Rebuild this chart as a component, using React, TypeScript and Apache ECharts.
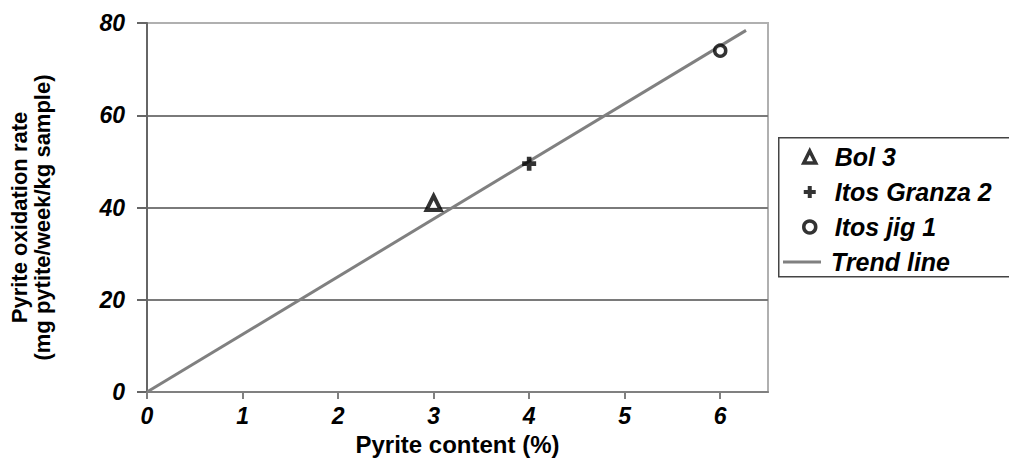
import React, { useEffect, useRef } from "react";
import * as echarts from "echarts";

const xTicks = [0, 1, 2, 3, 4, 5, 6];
const yTicks = [0, 20, 40, 60, 80];
const bol3 = [[3, 41]];
const itosGranza2 = [[4, 49.5]];
const itosJig1 = [[6, 74]];
const trendLine = [[0, 0], [6.27, 78.4]];
const markerNames = ["Bol 3", "Itos Granza 2", "Itos jig 1"];
const lineNames = ["Trend line"];

const FONT = "'Liberation Sans', Arial, sans-serif";
const PLUS = "path://M4,0 H8 V4 H12 V8 H8 V12 H4 V8 H0 V4 H4 Z";
const legendText = {
  fontFamily: FONT,
  fontSize: 25,
  fontWeight: "bold",
  fontStyle: "italic",
  color: "#000",
  lineHeight: 26,
};
const openMarker = { color: "#fff", borderColor: "#000", borderWidth: 3.5 };

export default function App() {
  const ref = useRef<HTMLDivElement>(null);
  useEffect(() => {
    if (!ref.current) return;
    const chart = echarts.init(ref.current, undefined, { renderer: "svg" });
    chart.setOption({
      animation: false,
      backgroundColor: "#fff",
      grid: {
        left: 145,
        top: 23,
        right: 241,
        bottom: 81,
        show: true,
        borderColor: "#b0b0b0",
        borderWidth: 2,
        backgroundColor: "transparent",
      },
      graphic: [
        {
          type: "rect",
          left: 778,
          top: 137,
          shape: { width: 240, height: 139 },
          style: { fill: "#fff", stroke: "#444", lineWidth: 1.5 },
          z: 1,
        },
      ],
      legend: [
        {
          orient: "vertical",
          left: 802,
          top: 144,
          padding: 0,
          itemWidth: 12,
          itemHeight: 12,
          itemGap: 9,
          textStyle: { ...legendText, padding: [0, 0, 0, 14] },
          data: [
            { name: markerNames[0], itemStyle: openMarker },
            { name: markerNames[1], itemStyle: { color: "#000" } },
            { name: markerNames[2], itemStyle: openMarker },
          ],
          z: 10,
        },
        {
          orient: "vertical",
          left: 783,
          top: 249,
          padding: 0,
          itemWidth: 38,
          itemHeight: 3,
          icon: "rect",
          textStyle: { ...legendText, padding: [0, 0, 0, 5] },
          data: lineNames,
          z: 10,
        },
      ],
      xAxis: {
        type: "value",
        min: 0,
        max: 6.5,
        name: "Pyrite content (%)",
        nameLocation: "middle",
        nameGap: 40,
        nameTextStyle: { fontFamily: FONT, fontSize: 24, fontWeight: "bold", color: "#000" },
        axisLine: { show: true, onZero: false, lineStyle: { color: "#808080", width: 2 } },
        axisTick: { show: true, inside: false, length: 7, customValues: xTicks, lineStyle: { color: "#808080", width: 2 } },
        axisLabel: {
          customValues: xTicks,
          margin: 12,
          fontFamily: FONT,
          fontSize: 23,
          fontWeight: "bold",
          fontStyle: "italic",
          color: "#000",
        },
        splitLine: { show: false },
      },
      yAxis: {
        type: "value",
        min: 0,
        max: 80,
        interval: 20,
        name: "Pyrite oxidation rate\n(mg pytite/week/kg sample)",
        nameLocation: "middle",
        nameRotate: 90,
        nameGap: 93,
        nameTextStyle: {
          fontFamily: FONT,
          fontSize: 22,
          fontWeight: "bold",
          color: "#000",
          lineHeight: 23,
          padding: [0, 20, 0, 0],
        },
        axisLine: { show: true, onZero: false, lineStyle: { color: "#666", width: 2 } },
        axisTick: { show: true, inside: false, length: 10, lineStyle: { color: "#666", width: 2 } },
        axisLabel: {
          margin: 22,
          fontFamily: FONT,
          fontSize: 23,
          fontWeight: "bold",
          fontStyle: "italic",
          color: "#000",
          customValues: yTicks,
        },
        splitLine: { show: true, showMaxLine: false, showMinLine: false, lineStyle: { color: "#7a7a7a", width: 2 } },
      },
      series: [
        {
          name: "Bol 3",
          type: "scatter",
          data: bol3,
          symbol: "triangle",
          symbolSize: 14,
          z: 5,
          itemStyle: { color: "#fff", borderColor: "#000", borderWidth: 4 },
        },
        {
          name: "Itos Granza 2",
          type: "scatter",
          data: itosGranza2,
          symbol: PLUS,
          symbolSize: 14,
          z: 5,
          itemStyle: { color: "#000" },
        },
        {
          name: "Itos jig 1",
          type: "scatter",
          data: itosJig1,
          symbol: "circle",
          symbolSize: 11,
          z: 5,
          itemStyle: openMarker,
        },
        {
          name: "Trend line",
          type: "line",
          data: trendLine,
          symbol: "none",
          showSymbol: false,
          z: 3,
          itemStyle: { color: "#808080" },
          lineStyle: { color: "#808080", width: 3 },
        },
      ],
    });
    return () => chart.dispose();
  }, []);
  return (
    <div
      ref={ref}
      style={{ position: "fixed", left: 0, top: 0, width: 1009, height: 473 }}
    />
  );
}
